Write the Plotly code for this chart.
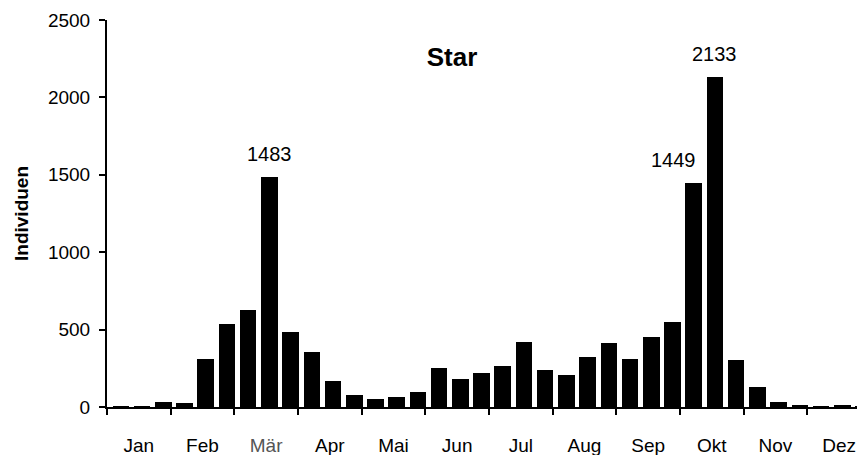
import plotly.graph_objects as go

months = ["Jan", "Feb", "Mär", "Apr", "Mai", "Jun", "Jul", "Aug", "Sep", "Okt", "Nov", "Dez"]
decade_values = [
    5, 5, 32,
    28, 310, 534,
    627, 1483, 482,
    357, 170, 78,
    52, 63, 97,
    252, 181, 218,
    267, 420, 237,
    209, 325, 413,
    310, 454, 549,
    1449, 2133, 302,
    131, 32, 8,
    5, 8, 5,
]
labelled = {7: (0, "1483"), 27: (-20, "1449"), 28: (0, "2133")}
y_ticks = [0, 500, 1000, 1500, 2000, 2500]

x = list(range(len(decade_values)))
off = -0.65
month_edges = [3 * m + off for m in range(len(months))]
month_centers = [3 * m + off + 1.5 for m in range(len(months))]
month_text = [f"<span style='color:#555'>{m}</span>" if m == "Mär" else m for m in months]

# the page body adds an 8px offset, compensate in the margins
pad = 8

fig = go.Figure()
fig.add_trace(go.Bar(x=x, y=decade_values, width=0.78, marker=dict(color="black", line=dict(width=0)),
                     hoverinfo="skip"))

for i, (dx, txt) in labelled.items():
    fig.add_annotation(x=x[i], y=decade_values[i], text=txt, showarrow=False, xanchor="center",
                       yanchor="bottom", yshift=10, xshift=dx,
                       font=dict(family="Liberation Sans, Arial", size=20, color="black"))

fig.update_layout(
    width=865, height=455,
    margin=dict(l=107 - pad, r=pad, t=20 - pad, b=48 + pad),
    paper_bgcolor="white", plot_bgcolor="white",
    showlegend=False,
    font=dict(family="Liberation Sans, Arial", size=19, color="black"),
    title=dict(text="<b>Star</b>", x=(452 - pad) / 865, xanchor="center", y=1 - (57 - pad) / 455,
               yanchor="middle",
               font=dict(family="Liberation Sans, Arial", size=26, color="black")),
    xaxis=dict(range=[off, 35.07], tickvals=month_centers, ticktext=month_text, ticks="",
               ticklabelstandoff=20, showline=True, linecolor="black", linewidth=2,
               showgrid=False, zeroline=False, fixedrange=True, automargin=False,
               minor=dict(tickvals=month_edges, ticks="outside", ticklen=6, tickwidth=2,
                          tickcolor="black", showgrid=False)),
    yaxis=dict(range=[0, 2500], tickvals=y_ticks, ticks="outside", ticklen=6, tickwidth=2,
               tickcolor="black", showline=True, linecolor="black", linewidth=2,
               showgrid=False, zeroline=False, ticklabelstandoff=5, automargin=False,
               title=dict(text="<b>Individuen</b>", standoff=14,
                          font=dict(family="Liberation Sans, Arial", size=19, color="black"))),
    bargap=0,
)

fig.write_html("out.html")
